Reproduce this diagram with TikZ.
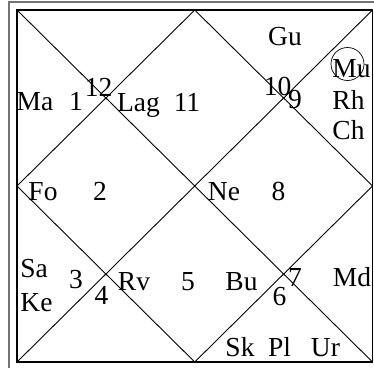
\documentclass[tikz,border=0pt]{standalone}
\usepackage{fontspec}
\setmainfont{Liberation Serif}
\begin{document}
\begin{tikzpicture}[x=1pt,y=-1pt,
  lbl/.style={inner sep=0pt,anchor=base,font=\fontsize{27.5}{31}\selectfont},
  frame/.style={draw=black!55,line width=1.4pt},
  box/.style={draw=black,line width=1.3pt},
  chartline/.style={draw=black,line width=0.9pt}]
\useasboundingbox (0,0) rectangle (374,368);
% outer frame (cut at the right and bottom)
\draw[frame] (9,368) -- (9,2) -- (374,2);
% chart square
\coordinate (tl) at (17,10);
\coordinate (tr) at (372.5,10);
\coordinate (br) at (372.5,362);
\coordinate (bl) at (17,362);
\coordinate (tm) at (194.75,10);
\coordinate (rm) at (372.5,186);
\coordinate (bm) at (194.75,362);
\coordinate (lm) at (17,186);
\draw[chartline] (tl) -- (br) (tr) -- (bl);
\draw[chartline] (tm) -- (rm) -- (bm) -- (lm) -- cycle;
\draw[box] (tl) rectangle (br);
% labels
\node[lbl] (gu) at (285,45.5) {Gu};
\node[lbl] (ma) at (35,110.5) {Ma};
\node[lbl] (h1) at (76,110.5) {1};
\node[lbl] (h12) at (98.5,96) {12};
\node[lbl] (lag) at (138.5,111) {Lag};
\node[lbl] (h11) at (187,111) {11};
\node[lbl] (h10) at (277.5,95) {10};
\node[lbl] (h9) at (295,108.5) {9};
\node[lbl] (mu) at (351.5,77) {Mu};
\draw[black,line width=0.7pt] (347.5,64) circle (16.5);
\node[lbl] (rh) at (348.5,109) {Rh};
\node[lbl] (ch) at (348.5,139.5) {Ch};
\node[lbl] (fo) at (43,200.5) {Fo};
\node[lbl] (h2) at (100,200.5) {2};
\node[lbl] (ne) at (224,200.5) {Ne};
\node[lbl] (h8) at (278.5,200.5) {8};
\node[lbl] (sa) at (34,277) {Sa};
\node[lbl] (ke) at (36.5,311.5) {Ke};
\node[lbl] (h3) at (76,288) {3};
\node[lbl] (h4) at (101.5,304) {4};
\node[lbl] (rv) at (134,290) {Rv};
\node[lbl] (h5) at (188,290) {5};
\node[lbl] (bu) at (241.5,290) {Bu};
\node[lbl] (h7) at (295,286) {7};
\node[lbl] (h6) at (279.5,305) {6};
\node[lbl] (md) at (352,286) {Md};
\node[lbl] (sk) at (240,356) {Sk};
\node[lbl] (pl) at (279.5,356) {Pl};
\node[lbl] (ur) at (325.5,356) {Ur};
\end{tikzpicture}
\end{document}
